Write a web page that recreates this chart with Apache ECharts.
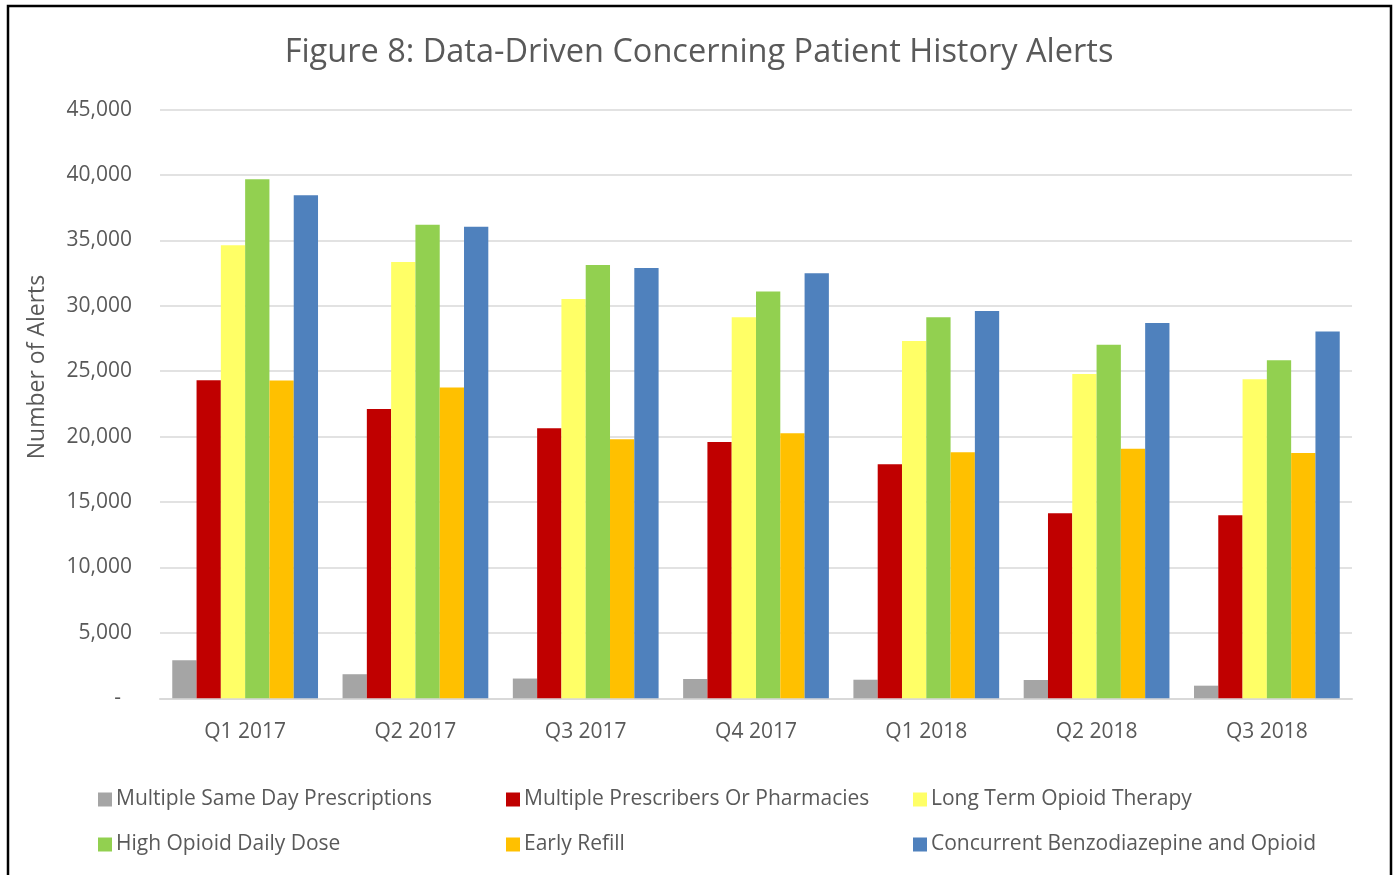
<!DOCTYPE html>
<html>
<head>
<meta charset="utf-8">
<script src="https://cdn.jsdelivr.net/npm/echarts@6/dist/echarts.min.js"></script>
<style>
html,body{margin:0;padding:0;background:#fff;}
#c{width:1398px;height:875px;}
</style>
</head>
<body>
<div id="c"></div>
<script>
const categories = ['Q1 2017','Q2 2017','Q3 2017','Q4 2017','Q1 2018','Q2 2018','Q3 2018'];
const seriesNames = ['Multiple Same Day Prescriptions','Multiple Prescribers Or Pharmacies','Long Term Opioid Therapy','High Opioid Daily Dose','Early Refill','Concurrent Benzodiazepine and Opioid'];
const sameDay      = [2900, 1840, 1510, 1475, 1420, 1400, 965];
const prescribers  = [24310, 22120, 20640, 19600, 17890, 14140, 13990];
const longTerm     = [34630, 33360, 30530, 29130, 27320, 24790, 24390];
const highDose     = [39680, 36190, 33130, 31090, 29130, 27030, 25840];
const earlyRefill  = [24290, 23750, 19800, 20260, 18810, 19080, 18750];
const benzo        = [38460, 36040, 32900, 32490, 29610, 28690, 28030];
const yTicks = [0, 5000, 10000, 15000, 20000, 25000, 30000, 35000, 40000, 45000];
const colors = ['#A5A5A5','#C00000','#FFFF66','#92D050','#FFC000','#4F81BD'];
const allData = [sameDay, prescribers, longTerm, highDose, earlyRefill, benzo];

const FONT = 'Open Sans';
const TXT = '#595959';

const legendPos = [
  {left: 93, top: 784}, {left: 501, top: 784}, {left: 908, top: 784},
  {left: 93, top: 829}, {left: 501, top: 829}, {left: 908, top: 829}
];

const chart = echarts.init(document.getElementById('c'));
chart.setOption({
  animation: false,
  backgroundColor: '#fff',
  title: {
    text: 'Figure 8: Data-Driven Concerning Patient History Alerts',
    left: 'center',
    top: 31,
    textStyle: {fontFamily: FONT, fontSize: 32.5, fontWeight: 'normal', color: TXT}
  },
  legend: seriesNames.map((n, i) => ({
    data: [n],
    left: legendPos[i].left,
    top: legendPos[i].top,
    itemWidth: 14, itemHeight: 14, itemGap: 6,
    icon: 'rect',
    textStyle: {fontFamily: FONT, fontSize: 21, color: TXT, padding: [0,0,0,-1]}
  })),
  grid: {left: 160, right: 46, top: 109.6, bottom: 176.7, containLabel: false},
  xAxis: {
    type: 'category',
    data: categories,
    axisLine: {lineStyle: {color: '#D9D9D9', width: 2}},
    axisTick: {show: false},
    axisLabel: {fontFamily: FONT, fontSize: 21, color: TXT, margin: 23}
  },
  yAxis: {
    type: 'value',
    min: 0, max: 45000, interval: 5000,
    axisLine: {show: false},
    axisTick: {show: false},
    splitLine: {lineStyle: {color: '#D9D9D9', width: 1.5}},
    axisLabel: {
      fontFamily: FONT, fontSize: 21, color: TXT, margin: 28,
      formatter: v => v === 0 ? '-  ' : v.toLocaleString('en-US')
    }
  },
  series: seriesNames.map((n, i) => ({
    name: n,
    type: 'bar',
    data: allData[i],
    barGap: '0%',
    barCategoryGap: '14.4%',
    itemStyle: {color: colors[i]}
  })),
  graphic: [{
    type: 'text',
    x: 37, y: 367,
    rotation: Math.PI / 2,
    style: {text: 'Number of Alerts', fontFamily: FONT, fontSize: 23, fill: TXT, align: 'center', verticalAlign: 'middle'},
    silent: true
  }, {
    type: 'rect',
    shape: {x: 8, y: 6, width: 1383, height: 1000},
    style: {fill: 'none', stroke: '#000', lineWidth: 2.5},
    silent: true, z: 100
  }]
});
</script>
</body>
</html>
